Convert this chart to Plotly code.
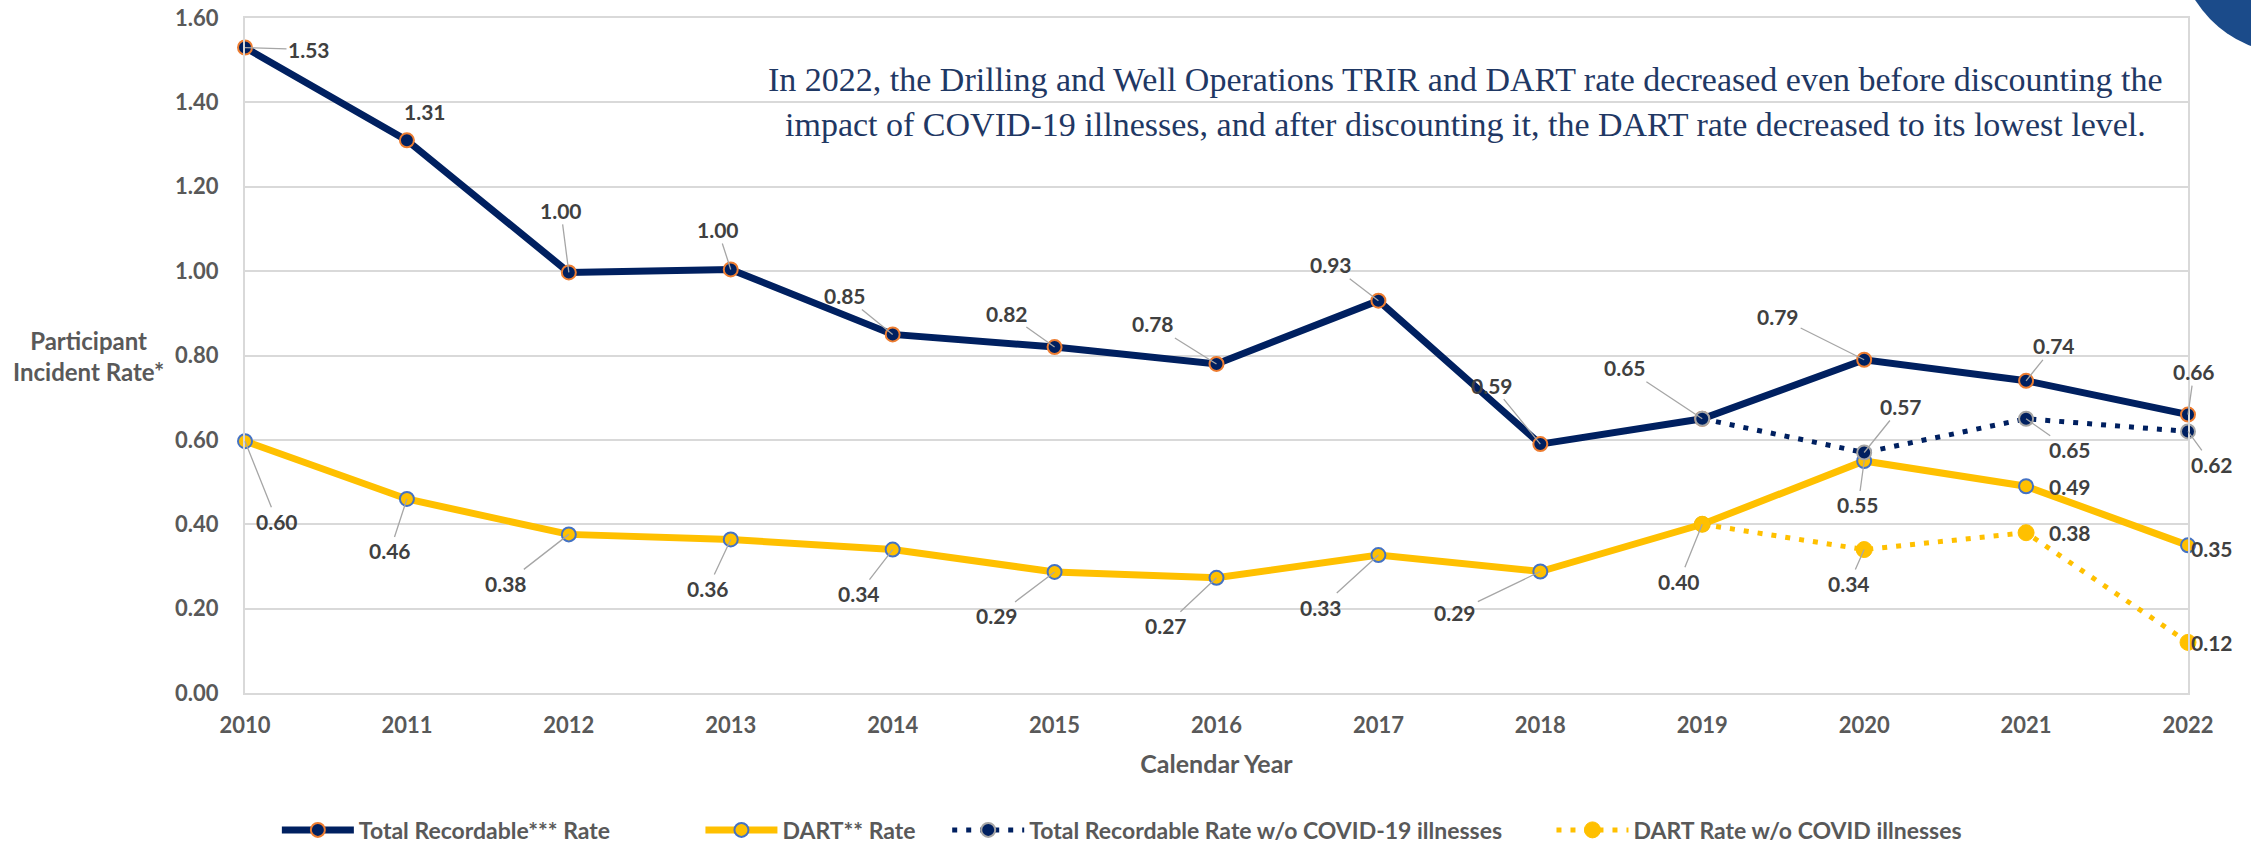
import plotly.graph_objects as go

# ---------------- data ----------------
years = [2010, 2011, 2012, 2013, 2014, 2015, 2016, 2017, 2018, 2019, 2020, 2021, 2022]
trir = [1.53, 1.31, 0.997, 1.004, 0.85, 0.82, 0.78, 0.93, 0.59, 0.65, 0.79, 0.74, 0.66]
dart = [0.597, 0.46, 0.376, 0.364, 0.34, 0.287, 0.273, 0.327, 0.288, 0.40, 0.55, 0.49, 0.35]
covid_years = [2019, 2020, 2021, 2022]
trir_wo_covid = [0.65, 0.57, 0.65, 0.62]
dart_wo_covid = [0.40, 0.34, 0.38, 0.12]

y_ticks = [0.0, 0.2, 0.4, 0.6, 0.8, 1.0, 1.2, 1.4, 1.6]

names = [
    "Total Recordable*** Rate",
    "DART** Rate",
    "Total Recordable Rate w/o COVID-19 illnesses",
    "DART Rate w/o COVID illnesses",
]
note_lines = [
    "In 2022, the Drilling and Well Operations TRIR and DART rate decreased even before discounting the",
    "impact of COVID-19 illnesses, and after discounting it, the DART rate decreased to its lowest level.",
]

# ---------------- style ----------------
NAVY = "#002060"
GOLD = "#FFC000"
ORANGE = "#ED7D31"
BLUE = "#4472C4"
GREY_MK = "#A5A5A5"
TXT = "#595959"
LBL = "#404040"
LEADER = "#A6A6A6"
FONT = "Lato"

# label offsets (pixels) and whether a leader line is drawn
trir_off = [(64, 2, 1), (18, -29, 0), (-8, -62, 1), (-13, -40, 1), (-48, -39, 1), (-48, -34, 1),
            (-64, -40, 1), (-47, -36, 1), (-48, -59, 1), (-77, -51, 1), (-86, -43, 1), (28, -35, 1),
            (6, -43, 1)]
dart_off = [(32, 80, 1), (-17, 52, 1), (-63, 49, 1), (-23, 49, 1), (-34, 44, 1), (-58, 44, 1),
            (-51, 48, 1), (-57, 52, 1), (-85, 41, 1), (-23, 57, 1), (-6, 44, 1), (44, 0, 0),
            (24, 3, 0)]
trir_wo_off = [None, (37, -46, 1), (44, 31, 1), (24, 33, 1)]
dart_wo_off = [None, (-15, 34, 1), (44, 0, 0), (24, 0, 0)]

fig = go.Figure()

fig.add_trace(go.Scatter(
    x=years, y=trir, name=names[0], mode="lines+markers", legend="legend",
    line=dict(color=NAVY, width=7),
    marker=dict(color=NAVY, size=14, line=dict(color=ORANGE, width=2)),
    cliponaxis=False, hoverinfo="x+y"))
fig.add_trace(go.Scatter(
    x=years, y=dart, name=names[1], mode="lines+markers", legend="legend2",
    line=dict(color=GOLD, width=7),
    marker=dict(color=GOLD, size=14, line=dict(color=BLUE, width=2)),
    cliponaxis=False, hoverinfo="x+y"))
fig.add_trace(go.Scatter(
    x=covid_years, y=trir_wo_covid, name=names[2], mode="lines+markers", legend="legend3",
    line=dict(color=NAVY, width=5, dash="5px,9px"),
    marker=dict(color=NAVY, size=14, line=dict(color=GREY_MK, width=2)),
    cliponaxis=False, hoverinfo="x+y"))
fig.add_trace(go.Scatter(
    x=covid_years, y=dart_wo_covid, name=names[3], mode="lines+markers", legend="legend4",
    line=dict(color=GOLD, width=5, dash="5px,9px"),
    marker=dict(color=GOLD, size=16, line=dict(color=GOLD, width=1)),
    cliponaxis=False, hoverinfo="x+y"))

annotations = []


def add_labels(xs, ys, offs):
    for xv, yv, off in zip(xs, ys, offs):
        if off is None:
            continue
        ax, ay, lead = off
        annotations.append(dict(
            x=xv, y=yv, xref="x", yref="y", text=f"{yv:.2f}",
            showarrow=True, arrowhead=0, arrowwidth=1.3,
            arrowcolor=LEADER if lead else "rgba(0,0,0,0)",
            ax=ax, ay=ay, standoff=0,
            font=dict(family=FONT, size=21, color=LBL, weight=700)))


add_labels(years, trir, trir_off)
add_labels(years, dart, dart_off)
add_labels(covid_years, trir_wo_covid, trir_wo_off)
add_labels(covid_years, dart_wo_covid, dart_wo_off)

# explanatory note
for i, line in enumerate(note_lines):
    annotations.append(dict(
        x=0.628, y=[0.9096, 0.8415][i], xref="paper", yref="paper", text=line,
        showarrow=False, xanchor="center", yanchor="middle",
        font=dict(family="Liberation Serif", size=34, color="#1F3864")))

# y-axis title
annotations.append(dict(
    x=-0.0808, y=0.499, xref="paper", yref="paper",
    text="Participant<br>Incident Rate*", showarrow=False,
    xanchor="center", yanchor="middle", align="center",
    font=dict(family=FONT, size=24, color=TXT, weight=700)))

legend_common = dict(
    orientation="h", yanchor="middle", xanchor="left", yref="container", y=0.019,
    font=dict(family=FONT, size=23, color=TXT, weight=700),
    itemwidth=72, bgcolor="rgba(0,0,0,0)", borderwidth=0, itemclick=False)

fig.update_layout(
    width=2251, height=846,
    margin=dict(l=245, r=63, t=18, b=153, autoexpand=False),
    paper_bgcolor="white", plot_bgcolor="white",
    font=dict(family=FONT, color=TXT),
    showlegend=True,
    legend=dict(x=0.0164, **legend_common),
    legend2=dict(x=0.2344, **legend_common),
    legend3=dict(x=0.3614, **legend_common),
    legend4=dict(x=0.6724, **legend_common),
    annotations=annotations,
    xaxis=dict(
        range=[2010, 2022], tickmode="array", tickvals=years,
        ticktext=[str(y) for y in years],
        showgrid=False, zeroline=False, showline=True, mirror=True,
        linecolor="#D9D9D9", linewidth=2, ticks="", ticklabelstandoff=12,
        tickfont=dict(family=FONT, size=22, color=TXT, weight=700),
        title=dict(text="Calendar Year", standoff=18,
                   font=dict(family=FONT, size=25, color=TXT, weight=700))),
    yaxis=dict(
        range=[0, 1.6], tickmode="array", tickvals=y_ticks,
        ticktext=[f"{v:.2f}" for v in y_ticks],
        showgrid=True, gridcolor="#D9D9D9", gridwidth=2, zeroline=False,
        showline=True, mirror=True, linecolor="#D9D9D9", linewidth=2,
        ticks="", ticklabelstandoff=20,
        tickfont=dict(family=FONT, size=22, color=TXT, weight=700)),
    shapes=[dict(type="circle", xref="paper", yref="paper",
                 x0=0.9943, x1=1.1107, y0=0.948, y1=1.2933,
                 fillcolor="#1B4B8A", line=dict(width=0), layer="above")],
)

fig.write_html("out.html", config={"displayModeBar": False},
               post_script="document.body.style.margin='0';")
